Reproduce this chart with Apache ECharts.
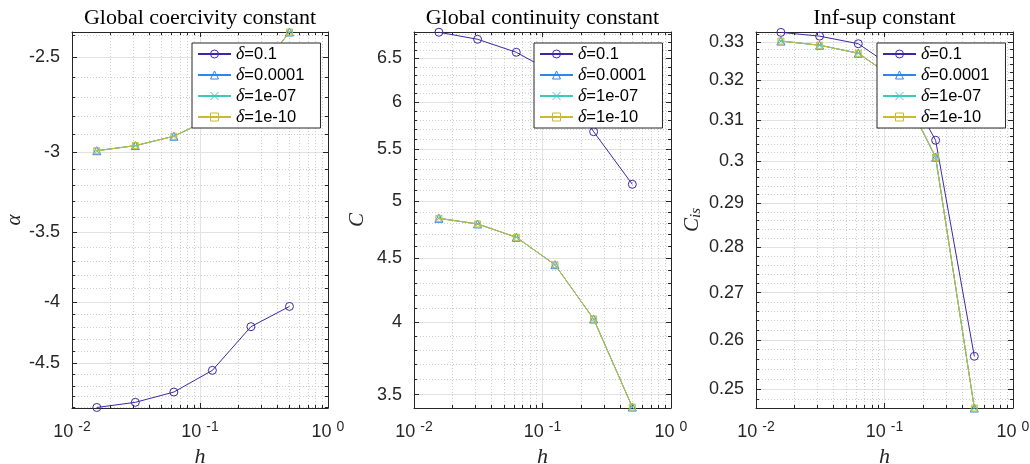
<!DOCTYPE html>
<html><head><meta charset="utf-8">
<script src="https://cdn.jsdelivr.net/npm/echarts@6/dist/echarts.min.js"></script>
<style>html,body{margin:0;padding:0;background:#fff}#c{width:1030px;height:464px}</style>
</head><body><div id="c"></div>
<script>
// ---- data ----
const hValues = [0.015625, 0.03125, 0.0625, 0.125, 0.25, 0.5];
const seriesNames = ['δ=0.1', 'δ=0.0001', 'δ=1e-07', 'δ=1e-10'];

const alphaD1  = [-4.900, -4.852, -4.757, -4.563, -4.196, -4.036];
const alphaD4  = [-2.993, -2.964, -2.911, -2.810, -2.627, -2.383];
const alphaD7  = [-2.993, -2.964, -2.911, -2.810, -2.627, -2.383];
const alphaD10 = [-2.993, -2.964, -2.911, -2.810, -2.627, -2.383];

const contD1  = [6.820, 6.732, 6.573, 6.320, 5.679, 5.155];
const contD4  = [4.842, 4.792, 4.676, 4.446, 4.023, 3.421];
const contD7  = [4.842, 4.792, 4.676, 4.446, 4.023, 3.421];
const contD10 = [4.842, 4.792, 4.676, 4.446, 4.023, 3.421];

const infsupD1  = [0.3325, 0.3315, 0.3295, 0.3226, 0.3050, 0.2566];
const infsupD4  = [0.3302, 0.3291, 0.3270, 0.3200, 0.3009, 0.2462];
const infsupD7  = [0.3302, 0.3291, 0.3270, 0.3200, 0.3009, 0.2462];
const infsupD10 = [0.3302, 0.3291, 0.3270, 0.3200, 0.3009, 0.2462];

// ---- tick labels ----
const xMajorTicks = [0.01, 0.1, 1];
const xMinorTicks = [0.02,0.03,0.04,0.05,0.06,0.07,0.08,0.09,0.2,0.3,0.4,0.5,0.6,0.7,0.8,0.9];
const alphaMajorTicks = [-2.5, -3, -3.5, -4, -4.5];
const alphaMinorTicks = [-2.4,-2.6,-2.7,-2.8,-2.9,-3.1,-3.2,-3.3,-3.4,-3.6,-3.7,-3.8,-3.9,-4.1,-4.2,-4.3,-4.4,-4.6,-4.7,-4.8,-4.9];
const contMajorTicks = [3.5, 4, 4.5, 5, 5.5, 6, 6.5];
const contMinorTicks = [3.6,3.7,3.8,3.9,4.1,4.2,4.3,4.4,4.6,4.7,4.8,4.9,5.1,5.2,5.3,5.4,5.6,5.7,5.8,5.9,6.1,6.2,6.3,6.4,6.6,6.7,6.8];
const infsupMajorTicks = [0.25, 0.26, 0.27, 0.28, 0.29, 0.30, 0.31, 0.32, 0.33];
const infsupMinorTicks = [0.248,0.252,0.254,0.256,0.258,0.262,0.264,0.266,0.268,0.272,0.274,0.276,0.278,0.282,0.284,0.286,0.288,0.292,0.294,0.296,0.298,0.302,0.304,0.306,0.308,0.312,0.314,0.316,0.318,0.322,0.324,0.326,0.328,0.332];

// ---- styling ----
const colors = ['#3E26A8', '#2F86E8', '#3CC7BF', '#C9BB2C'];
const symbols = ['circle', 'triangle', 'path://M0,0L10,10M10,0L0,10', 'rect'];
const symbolSizes = [8, 8, 5, 6];
const AX = '#262626';

const panels = [
  { title: 'Global coercivity constant', yName: '{i|α}', negate: true,
    grid: {left: 72, top: 32, width: 256, height: 376}, yMin: 2.383, yMax: 4.905, inverse: true,
    data: [alphaD1, alphaD4, alphaD7, alphaD10], major: alphaMajorTicks, minor: alphaMinorTicks, nameGap: 47, legendLeft: 192 },
  { title: 'Global continuity constant', yName: '{i|C}', negate: false,
    grid: {left: 414, top: 32, width: 257, height: 376}, yMin: 3.415, yMax: 6.823, inverse: false,
    data: [contD1, contD4, contD7, contD10], major: contMajorTicks, minor: contMinorTicks, nameGap: 46, legendLeft: 534 },
  { title: 'Inf-sup constant', yName: '{i|C}{s|is}', negate: false,
    grid: {left: 756, top: 32, width: 257, height: 376}, yMin: 0.2462, yMax: 0.3326, inverse: false,
    data: [infsupD1, infsupD4, infsupD7, infsupD10], major: infsupMajorTicks, minor: infsupMinorTicks, nameGap: 52, legendLeft: 877 }
];

const grids = [], xAxes = [], yAxes = [], series = [], legends = [], titles = [];
const tickFont = {fontFamily: 'Liberation Sans, Arial, sans-serif', fontSize: 18, color: AX};
const nameRich = {
  i: {fontFamily: 'Liberation Serif', fontStyle: 'italic', fontSize: 21, color: AX},
  s: {fontFamily: 'Liberation Serif', fontStyle: 'italic', fontSize: 15, color: AX, padding: [8, 0, 0, 0]}
};

panels.forEach((p, i) => {
  grids.push(Object.assign({show: false, containLabel: false, outerBoundsMode: 'none'}, p.grid));
  titles.push({
    text: p.title, left: p.grid.left + p.grid.width / 2 - 5, top: 2, textAlign: 'center',
    textStyle: {fontFamily: 'Liberation Serif', fontSize: 22, fontWeight: 'normal', color: '#000'}
  });
  const majY = p.negate ? p.major.map(v => -v) : p.major;
  const minY = p.negate ? p.minor.map(v => -v) : p.minor;
  const base = {gridIndex: i, type: 'log', logBase: 10};
  // x axes
  xAxes.push(Object.assign({}, base, {
    position: 'bottom', min: 0.01, max: 1,
    name: 'h', nameLocation: 'middle', nameGap: 34,
    nameTextStyle: {fontFamily: 'Liberation Serif', fontStyle: 'italic', fontSize: 22, color: AX},
    axisLine: {show: true, onZero: false, lineStyle: {color: AX, width: 1}},
    axisTick: {show: true, inside: true, length: 5, customValues: xMajorTicks, lineStyle: {color: AX}},
    axisLabel: {show: true, customValues: xMajorTicks, margin: 12,
      formatter: v => '{b|10}{s|' + Math.round(Math.log10(v)) + '}',
      rich: {
        b: Object.assign({}, tickFont),
        s: {fontFamily: 'Liberation Sans', fontSize: 14, color: AX, padding: [0, 0, 11, 5]}
      }},
    splitLine: {show: true, lineStyle: {color: '#e2e2e2', width: 1}}
  }));
  xAxes.push(Object.assign({}, base, {
    position: 'bottom', min: 0.01, max: 1,
    axisLine: {show: false, onZero: false},
    axisTick: {show: true, inside: true, length: 3, customValues: xMinorTicks, lineStyle: {color: AX}},
    axisLabel: {show: false},
    splitLine: {show: true, lineStyle: {color: '#cdcdcd', width: 1, type: [1, 2]}}
  }));
  xAxes.push(Object.assign({}, base, {
    position: 'top', min: 0.01, max: 1,
    axisLine: {show: true, onZero: false, lineStyle: {color: AX, width: 1}},
    axisTick: {show: true, inside: true, length: 5, customValues: xMajorTicks, lineStyle: {color: AX}},
    axisLabel: {show: false}, splitLine: {show: false}
  }));
  xAxes.push(Object.assign({}, base, {
    position: 'top', min: 0.01, max: 1,
    axisLine: {show: false, onZero: false},
    axisTick: {show: true, inside: true, length: 3, customValues: xMinorTicks, lineStyle: {color: AX}},
    axisLabel: {show: false}, splitLine: {show: false}
  }));
  // y axes
  const yb = Object.assign({}, base, {min: p.yMin, max: p.yMax, inverse: p.inverse});
  yAxes.push(Object.assign({}, yb, {
    position: 'left',
    name: p.yName, nameLocation: 'middle', nameGap: p.nameGap, nameRotate: 90,
    nameTextStyle: {rich: nameRich},
    axisLine: {show: true, onZero: false, lineStyle: {color: AX, width: 1}},
    axisTick: {show: true, inside: true, length: 5, customValues: majY, lineStyle: {color: AX}},
    axisLabel: Object.assign({show: true, customValues: majY, margin: 12,
      formatter: v => (p.negate ? '-' : '') + String(+(+v).toPrecision(6))}, tickFont),
    splitLine: {show: true, lineStyle: {color: '#e2e2e2', width: 1}}
  }));
  yAxes.push(Object.assign({}, yb, {
    position: 'left',
    axisLine: {show: false, onZero: false},
    axisTick: {show: true, inside: true, length: 3, customValues: minY, lineStyle: {color: AX}},
    axisLabel: {show: false},
    splitLine: {show: true, lineStyle: {color: '#cdcdcd', width: 1, type: [1, 2]}}
  }));
  yAxes.push(Object.assign({}, yb, {
    position: 'right',
    axisLine: {show: true, onZero: false, lineStyle: {color: AX, width: 1}},
    axisTick: {show: true, inside: true, length: 5, customValues: majY, lineStyle: {color: AX}},
    axisLabel: {show: false}, splitLine: {show: false}
  }));
  yAxes.push(Object.assign({}, yb, {
    position: 'right',
    axisLine: {show: false, onZero: false},
    axisTick: {show: true, inside: true, length: 3, customValues: minY, lineStyle: {color: AX}},
    axisLabel: {show: false}, splitLine: {show: false}
  }));
  // series
  p.data.forEach((vals, k) => {
    series.push({
      type: 'line', name: seriesNames[k],
      xAxisIndex: 4 * i, yAxisIndex: 4 * i,
      data: hValues.map((h, j) => [h, p.negate ? -vals[j] : vals[j]]),
      symbol: symbols[k], symbolSize: symbolSizes[k], showAllSymbol: true,
      lineStyle: {color: colors[k], width: 1},
      itemStyle: {color: 'rgba(255,255,255,0)', borderColor: colors[k], borderWidth: 1},
      clip: false, animation: false, z: 3 + k
    });
  });
  legends.push({
    orient: 'vertical', left: p.legendLeft, top: 43,
    data: seriesNames,
    itemWidth: 33, itemHeight: 10, itemGap: 3,
    padding: [2, 16, 2, 5],
    backgroundColor: '#fff', borderColor: AX, borderWidth: 1, borderRadius: 0,
    selectedMode: false, z: 20,
    itemStyle: {borderWidth: 1},
    formatter: n => '{d|δ}' + n.slice(1),
    textStyle: {fontFamily: 'Liberation Sans', fontSize: 16.5, color: '#000', lineHeight: 16,
      rich: {d: {fontFamily: 'Liberation Serif', fontStyle: 'italic', fontSize: 18, color: '#000', lineHeight: 16}}}
  });
});

const chart = echarts.init(document.getElementById('c'), null, {renderer: 'canvas'});
chart.setOption({
  animation: false,
  backgroundColor: '#fff',
  title: titles,
  grid: grids,
  xAxis: xAxes,
  yAxis: yAxes,
  legend: legends,
  series: series
});
</script>
</body></html>
